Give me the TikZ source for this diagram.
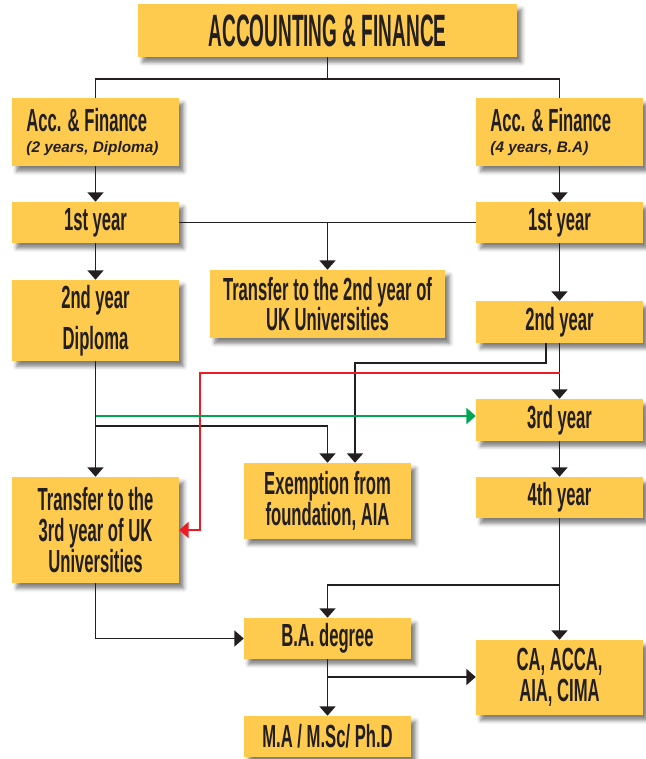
\documentclass[tikz,border=0pt]{standalone}
\usepackage{fontspec}
\newfontfamily\cf[FakeStretch=0.52]{Liberation Sans}
\newfontfamily\tf[FakeStretch=0.42]{Liberation Sans}
\newfontfamily\itf{Liberation Sans}
\usetikzlibrary{arrows.meta,shadows.blur}
\definecolor{boxy}{HTML}{FECB4F}
\definecolor{ink}{HTML}{231F20}
\definecolor{redl}{HTML}{ED1C24}
\definecolor{greenl}{HTML}{00A651}
\begin{document}
\begin{tikzpicture}[x=0.75pt,y=-0.75pt,
  box/.style={fill=boxy, text=ink, inner sep=0pt, align=center,
    font=\cf\bfseries\fontsize{24}{23}\selectfont,
    blur shadow={shadow xshift=3.5pt,shadow yshift=-4pt,shadow blur radius=3pt,shadow opacity=50}},
  sz/.style 2 args={minimum width=#1*0.75pt, minimum height=#2*0.75pt},
  conn/.style={draw=ink, line width=1.1pt},
  arr/.style={conn, -{Triangle[width=12pt,length=7pt]}},
  redarr/.style={draw=redl, line width=1.5pt, -{Triangle[width=12pt,length=7pt]}},
  greenarr/.style={draw=greenl, line width=1.5pt, -{Triangle[width=12pt,length=7pt]}},
  headbox/.style={box, sz={167}{68}, align=left},
]
\useasboundingbox (0,0) rectangle (645,759);

\node[box, sz={379}{53}, font=\tf\bfseries\fontsize{34}{34}\selectfont] (top) at (327.5,30.5) {ACCOUNTING \& FINANCE};
\node[headbox] (af2) at (95.5,132)
  {Acc. \& Finance\hspace*{13pt}\\[-7pt]{\itf\bfseries\itshape\fontsize{11.5}{13}\selectfont (2 years, Diploma)}};
\node[headbox] (af4) at (559.5,132)
  {Acc. \& Finance\hspace*{13pt}\\[-7pt]{\itf\bfseries\itshape\fontsize{11.5}{13}\selectfont (4 years, B.A)}};
\node[box, sz={167}{41}] (y1L) at (95.5,222.5) {1st year};
\node[box, sz={167}{41}] (y1R) at (559.5,222.5) {1st year};
\node[box, sz={235}{68}] (tr2) at (327.5,304) {Transfer to the 2nd year of\\UK Universities};
\node[box, sz={167}{81}] (y2L) at (95.5,320.5) {2nd year\\[8pt]Diploma};
\node[box, sz={167}{42}] (y2R) at (559.5,322) {2nd year};
\node[box, sz={167}{42}] (y3R) at (559.5,420) {3rd year};
\node[box, sz={167}{76}] (exm) at (327.5,501) {Exemption from\\foundation, AIA};
\node[box, sz={167}{106}] (tr3) at (95.5,530) {Transfer to the\\3rd year of UK\\Universities};
\node[box, sz={167}{41}] (y4R) at (559.5,497.5) {4th year};
\node[box, sz={167}{41}] (ba) at (327.5,638.5) {B.A. degree};
\node[box, sz={167}{75}] (ca) at (559.5,677.5) {CA, ACCA,\\AIA, CIMA};
\node[box, sz={167}{41}] (ma) at (327.5,736.5) {M.A / M.Sc/ Ph.D};

\coordinate (j0) at (327.5,79);
\coordinate (e1) at (546,363);
\coordinate (e2) at (355,363);
\coordinate (r1) at (559.5,373);
\coordinate (r2) at (200,373);
\coordinate (g1) at (95.5,416);
\coordinate (k1) at (95.5,426);
\coordinate (m1) at (559.5,585);
\coordinate (n1) at (327.5,677);

\draw[conn] (top.south) -- (j0);
\draw[conn] (af2.north) |- (j0) -| (af4.north);
\draw[arr] (af2) -- (y1L);
\draw[arr] (af4) -- (y1R);
\draw[conn] (y1L.east) -- (y1R.west);
\draw[arr] (y1L.east -| tr2.north) -- (tr2.north);
\draw[arr] (y1L) -- (y2L);
\draw[arr] (y1R) -- (y2R);
\draw[arr] (y2R) -- (y3R);
\draw[arr] (y3R) -- (y4R);
\draw[arr] (y4R) -- (ca);
\draw[arr] (y2L) -- (tr3);
\draw[arr] (y2R.south -| e1) |- (e2) -- (exm.north -| e2);
\draw[arr] (k1) -| (exm.north);
\draw[redarr] (r1) -- (r2) |- (tr3.east);
\draw[greenarr] (g1) -- (g1 -| y3R.west);
\draw[arr] (m1) -| (ba.north);
\draw[arr] (tr3.south) |- (ba.west);
\draw[arr] (ba) -- (ma);
\draw[arr] (n1) -- (n1 -| ca.west);
\end{tikzpicture}
\end{document}
